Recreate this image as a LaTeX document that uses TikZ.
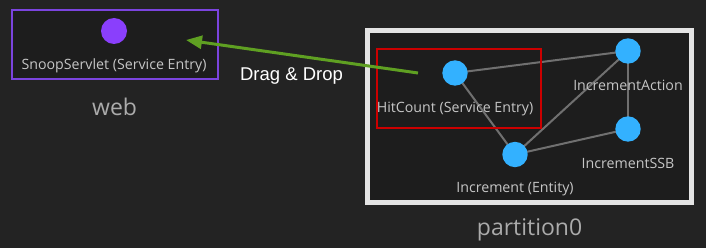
\documentclass[tikz,border=0pt]{standalone}
\usepackage{fontspec}
\setmainfont{Open Sans}
\newfontfamily\hintfont{Liberation Sans}
\usetikzlibrary{positioning, arrows.meta}
\definecolor{canvas}{HTML}{232323}
\definecolor{panel}{HTML}{1D1D1D}
\definecolor{svcblue}{HTML}{33B1FF}
\definecolor{webpurple}{HTML}{8A3FFC}
\definecolor{webframe}{HTML}{7B44DE}
\definecolor{selred}{HTML}{CC0000}
\definecolor{dropgreen}{HTML}{5FA022}
\definecolor{linkgray}{HTML}{707070}
\definecolor{lblgray}{HTML}{C6C6C6}
\definecolor{grpgray}{HTML}{ABABAB}
\definecolor{partframe}{HTML}{E4E4E4}
\tikzset{
	service/.style={circle, inner sep=0pt, minimum size=25.4pt, fill=svcblue},
	entry/.style={circle, inner sep=0pt, minimum size=26pt, fill=webpurple},
	lbl/.style={inner sep=0pt, text=lblgray, font=\fontsize{14.2}{16}\selectfont, node distance=34.5pt},
	grouplbl/.style={inner sep=0pt, text=grpgray, font=\fontsize{23}{26}\selectfont},
	% group frames
	webbox/.style={draw=webframe, line width=2pt, fill=panel, inner sep=0pt},
	partbox/.style={draw=partframe, line width=5pt, fill=panel, inner sep=0pt},
	selbox/.style={draw=selred, line width=1.7pt, inner sep=0pt},
	link/.style={draw=linkgray, line width=2pt},
	dragline/.style={draw=dropgreen, line width=3pt, -{Triangle[length=16pt, width=13pt]}},
	hint/.style={inner sep=0pt, text=white, font=\hintfont\fontsize{18.5}{20}\selectfont},
}

\begin{document}
\begin{tikzpicture}[x=1pt, y=-1pt]
	\fill[canvas] (0,0) rectangle (706,248);
	\useasboundingbox (0,0) rectangle (706,248);
	
	% web group
	\node (web) [webbox, minimum width=206.2pt, minimum height=69pt] at (114.6,44.8) {};
	\node (weblbl) [grouplbl, below of=web, node distance=62pt] {web};
	\node (snoop) [entry] at (114,31) {};
	\node (snooplbl) [lbl, below of=snoop] {SnoopServlet (Service Entry)};
	
	% partition0 group
	\node (part) [partbox, minimum width=324.3pt, minimum height=171.7pt] at (529.6,116.6) {};
	\node (partlbl) [grouplbl, below of=part, node distance=113.5pt] {partition0};
	
	\coordinate (hitpos) at (455,73);
	\coordinate (actionpos) at (628,51);
	\coordinate (ssbpos) at (628,129);
	\coordinate (incpos) at (515,154.5);
	
	\begin{scope}
		\draw[link] (hitpos) -- (actionpos);
		\draw[link] (hitpos) -- (incpos);
		\draw[link] (incpos) -- (actionpos);
		\draw[link] (actionpos) -- (ssbpos);
		\draw[link] (incpos) -- (ssbpos);
	\end{scope}
	
	\node (hitsel) [selbox, minimum width=164.3pt, minimum height=79pt] at (458.8,88.8) {};
	
	\node (hit) [service] at (hitpos) {};
	\node (action) [service] at (actionpos) {};
	\node (ssb) [service] at (ssbpos) {};
	\node (inc) [service] at (incpos) {};
	
	\node (hitlbl) [lbl, below of=hit, yshift=-1pt] {HitCount (Service Entry)};
	\node (actionlbl) [lbl, below of=action, yshift=0.5pt] {IncrementAction};
	\node (ssblbl) [lbl, below of=ssb] {IncrementSSB};
	\node (inclbl) [lbl, below of=inc] {Increment (Entity)};
	
	% drag and drop hint
	\coordinate (grab) at (418,73);
	\coordinate (drop) at (186,40);
	\draw[dragline] (grab) -- (drop);
	\node (dnd) [hint] at (291.5,76) {Drag \& Drop};
\end{tikzpicture}
\end{document}
